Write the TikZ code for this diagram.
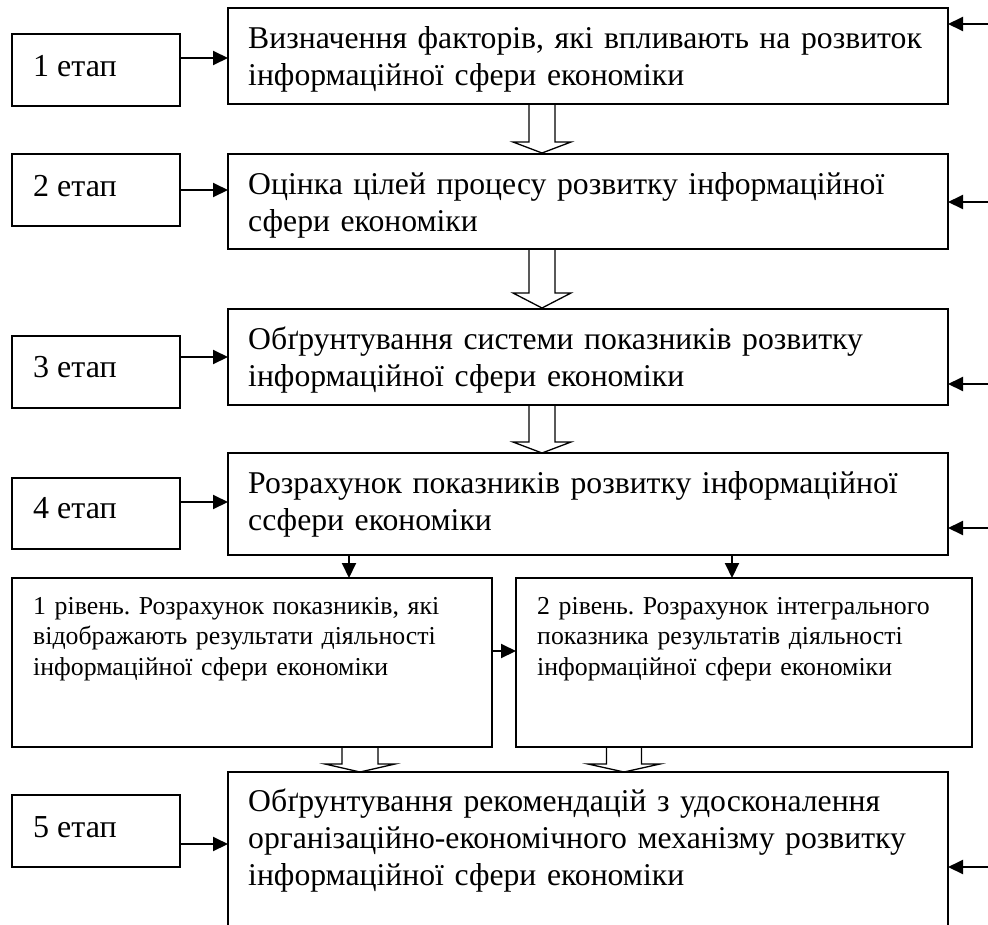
\documentclass[tikz,border=0pt]{standalone}
\usepackage{fontspec}
\setmainfont{Liberation Serif}
\usetikzlibrary{arrows.meta,calc}
\frenchspacing
\newcommand\hollowarrow[6]{\draw[hollow] (#1-#5,#2) -- (#1-#5,#3) -- (#1-#6,#3) -- (#1,#4) -- (#1+#6,#3) -- (#1+#5,#3) -- (#1+#5,#2);}
\begin{document}
\begin{tikzpicture}[x=1pt,y=-1pt,
 box/.style={draw,line width=1.5pt,inner sep=0pt,outer sep=0pt,anchor=north west},
 mtext/.style={anchor=base west,inner sep=0pt,align=left,text width=710pt,font=\fontsize{31.7}{37}\selectfont},
 ltext/.style={anchor=base west,inner sep=0pt,align=left,text width=430pt,font=\fontsize{25.8}{30.5}\selectfont},
 etext/.style={anchor=base west,inner sep=0pt,font=\fontsize{32}{37}\selectfont},
 arr/.style={-{Triangle[length=15pt,width=14pt]},line width=2pt},
 hollow/.style={draw,fill=white,line width=1.3pt,line join=miter}]
\useasboundingbox (0,0) rectangle (988,924);
\clip (0,0) rectangle (988,924);
% hollow arrows
\hollowarrow{542}{104}{142}{153}{13}{29}
\hollowarrow{542}{249}{293}{308}{13}{29}
\hollowarrow{542}{405}{442}{453}{13}{29}
\hollowarrow{360}{747}{764}{772}{18}{35}
\hollowarrow{624}{747}{764}{772}{17.5}{36}
% main boxes
\node[box,minimum width=720pt,minimum height=96pt] (m1) at (228,8) {};
\node[box,minimum width=720pt,minimum height=95pt] (m2) at (228,154) {};
\node[box,minimum width=720pt,minimum height=96pt] (m3) at (228,309) {};
\node[box,minimum width=720pt,minimum height=102pt] (m4) at (228,453) {};
\node[box,minimum width=720pt,minimum height=200pt] (m5) at (228,772) {};
% etap boxes
\node[box,minimum width=168pt,minimum height=72pt] (e1) at (12,34) {};
\node[box,minimum width=168pt,minimum height=72pt] (e2) at (12,154) {};
\node[box,minimum width=168pt,minimum height=72pt] (e3) at (12,336) {};
\node[box,minimum width=168pt,minimum height=71pt] (e4) at (12,478) {};
\node[box,minimum width=168pt,minimum height=72pt] (e5) at (12,795) {};
% level boxes
\node[box,minimum width=480pt,minimum height=169pt] (l1) at (12,578) {};
\node[box,minimum width=456pt,minimum height=169pt] (l2) at (516,578) {};
% texts
\node[mtext] (t1) at (248,48) {Визначення факторів, які впливають на розвиток\\інформаційної сфери економіки};
\node[mtext] (t2) at (248,194) {Оцінка цілей процесу розвитку інформаційної\\сфери економіки};
\node[mtext] (t3) at (248,349) {Обґрунтування системи показників розвитку\\інформаційної сфери економіки};
\node[mtext] (t4) at (248,493) {Розрахунок показників розвитку інформаційної\\ссфери економіки};
\node[mtext] (t5) at (248,811) {Обґрунтування рекомендацій з удосконалення\\організаційно-економічного механізму розвитку\\інформаційної сфери економіки};
\node[etext] (s1) at (33,76) {1 етап};
\node[etext] (s2) at (33,196) {2 етап};
\node[etext] (s3) at (33,377) {3 етап};
\node[etext] (s4) at (33,518) {4 етап};
\node[etext] (s5) at (33,837) {5 етап};
\node[ltext] (lt1) at (33,614) {1 рівень. Розрахунок показників, які\\відображають результати діяльності\\інформаційної сфери економіки};
\node[ltext] (lt2) at (537,614) {2 рівень. Розрахунок інтегрального\\показника результатів діяльності\\інформаційної сфери економіки};
% etap arrows
\coordinate (a1) at (180,58);
\coordinate (a2) at (180,190);
\coordinate (a3) at (180,357);
\coordinate (a4) at (180,502);
\coordinate (a5) at (180,844);
\draw[arr] (a1) -- (m1.west |- a1);
\draw[arr] (a2) -- (m2.west |- a2);
\draw[arr] (a3) -- (m3.west |- a3);
\draw[arr] (a4) -- (m4.west |- a4);
\draw[arr] (a5) -- (m5.west |- a5);
% feedback arrows
\coordinate (f1) at (990,24);
\coordinate (f2) at (990,202);
\coordinate (f3) at (990,384);
\coordinate (f4) at (990,528);
\coordinate (f5) at (990,867);
\draw[arr] (f1) -- (m1.east |- f1);
\draw[arr] (f2) -- (m2.east |- f2);
\draw[arr] (f3) -- (m3.east |- f3);
\draw[arr] (f4) -- (m4.east |- f4);
\draw[arr] (f5) -- (m5.east |- f5);
% down arrows
\coordinate (d1) at (349,555);
\coordinate (d2) at (732,555);
\draw[arr] (d1) -- (d1 |- l1.north);
\draw[arr] (d2) -- (d2 |- l2.north);
% level arrow
\coordinate (g1) at (492,651);
\draw[arr] (g1) -- (l2.west |- g1);
\end{tikzpicture}
\end{document}
